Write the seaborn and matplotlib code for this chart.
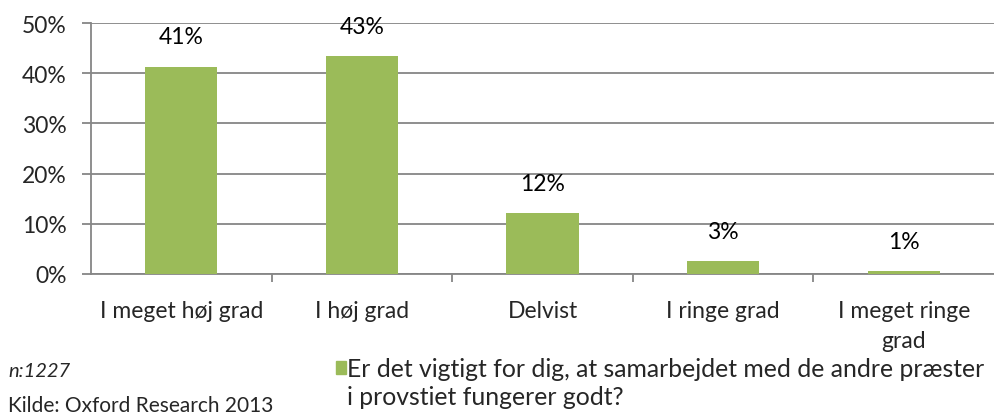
import matplotlib
matplotlib.use('Agg')
import matplotlib.pyplot as plt
import matplotlib.ticker as mticker
import seaborn as sns
import pandas as pd

# data
categories = ['I meget høj grad', 'I høj grad', 'Delvist', 'I ringe grad', 'I meget ringe\ngrad']
values = [41.3, 43.4, 12.1, 2.5, 0.5]
value_labels = ['41%', '43%', '12%', '3%', '1%']
series_line1 = 'Er det vigtigt for dig, at samarbejdet med de andre præster'
series_line2 = 'i provstiet fungerer godt?'
note_n = 'n:1227'
note_source = 'Kilde: Oxford Research 2013'

sns.set_style('white')
plt.rcParams['font.family'] = ['Lato', 'DejaVu Sans']

green = '#9BBB59'
grid_col = '#868686'

df = pd.DataFrame({'kategori': categories, 'andel': values})

fig = plt.figure(figsize=(9.94, 4.14), dpi=100)
ax = fig.add_axes([0.0916, 0.336, 0.9084, 0.606])

sns.barplot(data=df, x='kategori', y='andel', color=green, width=0.4,
            saturation=1, linewidth=0, ax=ax, zorder=3)

# value labels above bars
for i, (v, lab) in enumerate(zip(values, value_labels)):
    ax.annotate(lab, (i, v), xytext=(0, 14), textcoords='offset points',
                ha='center', va='bottom', fontsize=16.5, color='black')

ax.set_ylim(0, 50)
ax.set_xlim(-0.5, len(categories) - 0.5)
ax.yaxis.set_major_locator(mticker.MultipleLocator(10))
ax.yaxis.set_major_formatter(mticker.FuncFormatter(lambda y, _: f'{y:.0f}%'))
ax.grid(axis='y', color=grid_col, linewidth=1.3, zorder=0)
ax.set_xlabel('')
ax.set_ylabel('')

for s in ['top', 'right']:
    ax.spines[s].set_visible(False)
for s in ['left', 'bottom']:
    ax.spines[s].set_color(grid_col)
    ax.spines[s].set_linewidth(1.3)

# x ticks at category boundaries, labels centred under bars
ax.set_xticks([i + 0.5 for i in range(len(categories) - 1)], minor=False)
ax.set_xticklabels([])
ax.set_xticks(range(len(categories)), minor=True)
ax.set_xticklabels(categories, minor=True, fontsize=16.5, linespacing=1.5)
ax.tick_params(axis='x', which='major', direction='out', length=6,
               width=1.3, color=grid_col, bottom=True)
ax.tick_params(axis='x', which='minor', length=0, pad=19)
ax.tick_params(axis='y', direction='out', length=6.5, width=1.3,
               color=grid_col, left=True, labelsize=16.5, pad=11)

# legend and notes
fig.patches.append(plt.Rectangle((0.338, 0.094), 0.0105, 0.031,
                                 transform=fig.transFigure, color=green))
fig.text(0.349, 0.0894, series_line1, fontsize=17.8, va='baseline', ha='left')
fig.text(0.349, 0.0217, series_line2, fontsize=17.8, va='baseline', ha='left')
fig.text(0.008, 0.0894, note_n, fontsize=14.5, style='italic', va='baseline')
fig.text(0.008, 0.006, note_source, fontsize=15, va='baseline')

fig.savefig('out.png', dpi=100)
